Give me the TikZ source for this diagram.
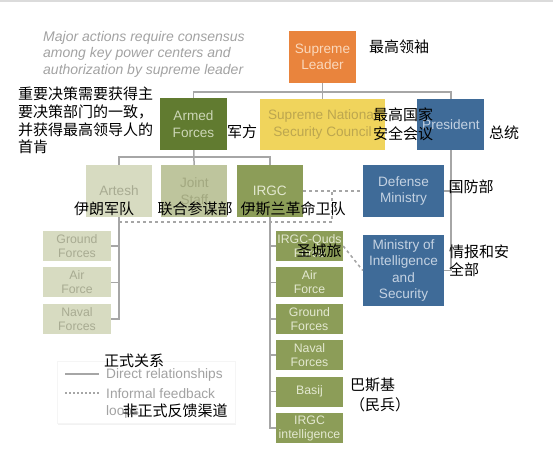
\documentclass[tikz,border=0pt]{standalone}
\usepackage{fontspec}
\setmainfont{Liberation Sans}
\newfontfamily\cjk{Noto Sans CJK SC}
\usepackage{xcolor}
\usetikzlibrary{arrows.meta, positioning, shadows}
\definecolor{leaderorange}{HTML}{E9843D}
\definecolor{leadertext}{HTML}{FAD8BC}
\definecolor{armedgreen}{HTML}{617B30}
\definecolor{armedtext}{HTML}{CCD6B6}
\definecolor{councilyellow}{HTML}{F0D45C}
\definecolor{counciltext}{HTML}{BCA64F}
\definecolor{govblue}{HTML}{3F6B98}
\definecolor{govtext}{HTML}{C4D2E2}
\definecolor{arteshpale}{HTML}{D7DBC1}
\definecolor{arteshtext}{HTML}{A8AB92}
\definecolor{staffgreen}{HTML}{BEC59D}
\definecolor{stafftext}{HTML}{A2A880}
\definecolor{irgcolive}{HTML}{8C9D58}
\definecolor{irgctext}{HTML}{E3E8D0}
\definecolor{linegray}{HTML}{A6A6A6}
\definecolor{notegray}{HTML}{A2A2A2}

\begin{document}
\begin{tikzpicture}[x=1pt, y=-1pt,
    box/.style={inner sep=0pt, align=center, minimum height=52pt, font=\fontsize{13.6}{16.5}\selectfont},
    subbox/.style={inner sep=0pt, align=center, minimum width=67pt, minimum height=30pt, font=\fontsize{12.3}{14}\selectfont},
    link/.style={draw=linegray, line width=1.5pt},
    informal/.style={draw=linegray, line width=1.5pt, dash pattern=on 3pt off 3pt},
    zh/.style={inner sep=0pt, font=\cjk\fontsize{15}{17.6}\selectfont}]
    \useasboundingbox (0,0) rectangle (553,463);
    \fill[black!14] (0,0) rectangle (553,2);

    % 最高层
    \node[box, fill=leaderorange, text=leadertext, minimum width=67pt] (leader) at (322.5,57) {Supreme\\Leader};
    \node[box, fill=armedgreen, text=armedtext, minimum width=67pt] (armed) at (193.5,124) {Armed\\Forces};
    \node[box, fill=councilyellow, text=counciltext, minimum width=125pt, minimum height=51pt] (snsc) at (322.5,124.5) {Supreme National\\Security Council};
    \node[box, fill=govblue, text=govtext, minimum width=67pt, minimum height=51pt, right=32pt of snsc] (president) {President};

    % 军方下属
    \node[box, fill=arteshpale, text=arteshtext, minimum width=66pt] (artesh) at (119,191) {Artesh};
    \node[box, fill=staffgreen, text=stafftext, minimum width=66pt, right=9pt of artesh] (joint) {Joint\\Staff};
    \node[box, fill=irgcolive, text=irgctext, minimum width=66pt, right=9pt of joint] (irgc) {IRGC};

    % 政府部门
    \node[box, fill=govblue, text=govtext, minimum width=81pt] (defense) at (403.5,191) {Defense\\Ministry};
    \node[box, fill=govblue, text=govtext, minimum width=81pt, minimum height=71pt] (mois) at (403.5,270.5) {Ministry of\\Intelligence\\and\\Security};

    % 伊朗军队各军种
    \node[subbox, fill=arteshpale, text=arteshtext, minimum width=68pt] (ground a) at (77,246) {Ground\\Forces};
    \node[subbox, fill=arteshpale, text=arteshtext, minimum width=68pt, below=6pt of ground a] (air a) {Air\\Force};
    \node[subbox, fill=arteshpale, text=arteshtext, minimum width=68pt, below=6pt of air a] (naval a) {Naval\\Forces};

    % 革命卫队各分支
    \node[subbox, fill=irgcolive, text=irgctext] (quds) at (309.5,246) {IRGC-Quds\\Force};
    \node[subbox, fill=irgcolive, text=irgctext, below=6pt of quds] (air r) {Air\\Force};
    \node[subbox, fill=irgcolive, text=irgctext, below=6pt of air r] (ground r) {Ground\\Forces};
    \node[subbox, fill=irgcolive, text=irgctext, below=6pt of ground r] (naval r) {Naval\\Forces};
    \node[subbox, fill=irgcolive, text=irgctext, below=6pt of naval r] (basij) {Basij};
    \node[subbox, fill=irgcolive, text=irgctext, below=6pt of basij] (irgc intel) {IRGC\\intelligence};

    % 正式关系连线
    \coordinate (top bar) at (322.5,92);
    \coordinate (armed bar) at (193.5,157);
    \draw[link] (leader) -- (snsc);
    \draw[link] (armed.north) |- (top bar) -| (president.north);
    \draw[link] (armed) -- (joint);
    \draw[link] (artesh.north) |- (armed bar) -| (irgc.north);
    \foreach \unit in {ground a, air a, naval a}
        \draw[link] (artesh.south) |- (\unit.east);
    \foreach \unit in {quds, air r, ground r, naval r, basij, irgc intel}
        \draw[link] (irgc.south) |- (\unit.west);
    \draw[link] (president.south) |- (defense.east);
    \draw[link] (president.south) |- (mois.east);

    % 非正式反馈渠道
    \coordinate (loop corner) at (332,222);
    \draw[informal] (irgc) -- (defense);
    \draw[informal] (artesh.south |- loop corner) -- (loop corner) -- (loop corner |- defense.west);
    \draw[informal] (quds.east) -- (mois.west);

    % 图例
    \node[fill=white, draw=black!4, minimum width=178pt, minimum height=62pt,
          drop shadow={opacity=0.1, shadow xshift=0.5pt, shadow yshift=-1pt}] (legend) at (146,392.5) {};
    \coordinate (direct a) at (65,374);
    \coordinate (direct b) at (99,374);
    \coordinate (informal a) at (65,393);
    \coordinate (informal b) at (99,393);
    \draw[link, line width=1.2pt] (direct a) -- (direct b);
    \draw[informal, line width=1.2pt, dash pattern=on 2pt off 2pt] (informal a) -- (informal b);
    \node[inner sep=0pt, anchor=base west, text=notegray, font=\fontsize{13.7}{17}\selectfont] (direct text) at (106,378) {Direct relationships};
    \node[inner sep=0pt, anchor=north west, align=left, text=notegray, font=\fontsize{13.7}{17.5}\selectfont] (informal text) at (106,388) {Informal feedback\\loops};

    % 说明文字
    \node[inner sep=0pt, anchor=north west, align=left, text=notegray, font=\itshape\fontsize{14}{16.5}\selectfont] (note) at (43,31)
        {Major actions require consensus\\among key power centers and\\authorization by supreme leader};

    % 中文标注
    \node[zh] (leader zh) at (399,47) {最高领袖};
    \node[zh, anchor=north west, align=left] (note zh) at (18,87) {重要决策需要获得主\\要决策部门的一致，\\并获得最高领导人的\\首肯};
    \node[zh] (armed zh) at (242,132) {军方};
    \node[zh, anchor=north west, align=left, font=\cjk\fontsize{15}{18.5}\selectfont] (snsc zh) at (373,108) {最高国家\\安全会议};
    \node[zh] (president zh) at (504,133) {总统};
    \node[zh] (artesh zh) at (104,209) {伊朗军队};
    \node[zh] (joint zh) at (195,209) {联合参谋部};
    \node[zh] (irgc zh) at (293,209) {伊斯兰革命卫队};
    \node[zh] (defense zh) at (471,187) {国防部};
    \node[zh, anchor=north west, align=left, font=\cjk\fontsize{15}{18}\selectfont] (mois zh) at (449,245) {情报和安\\全部};
    \node[zh] (quds zh) at (319,251) {圣城旅};
    \node[zh, anchor=north west, align=left, font=\cjk\fontsize{15}{20}\selectfont] (basij zh) at (350,378) {巴斯基\\（民兵）};
    \node[zh] (direct zh) at (134,361) {正式关系};
    \node[zh] (informal zh) at (175,411) {非正式反馈渠道};
\end{tikzpicture}
\end{document}
